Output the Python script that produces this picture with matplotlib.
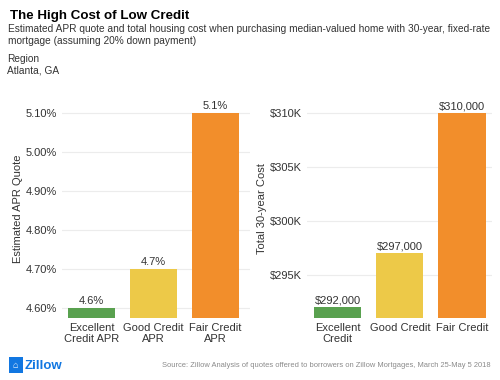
import matplotlib.pyplot as plt
from matplotlib.patches import Rectangle

plt.rcParams['font.family'] = ['Liberation Sans', 'DejaVu Sans']

# data
apr_labels = ['Excellent\nCredit APR', 'Good Credit\nAPR', 'Fair Credit\nAPR']
apr_values = [4.6, 4.7, 5.1]
apr_ticks = [4.6, 4.7, 4.8, 4.9, 5.0, 5.1]

cost_labels = ['Excellent\nCredit', 'Good Credit', 'Fair Credit']
cost_values = [292000, 297000, 310000]
cost_ticks = [295000, 300000, 305000, 310000]

colors = ['#59a14f', '#edc948', '#f28e2b']
text_col = '#333333'
grid_col = '#ececec'

fig = plt.figure(figsize=(5, 3.8), dpi=100)

fig.text(0.02, 0.958, 'The High Cost of Low Credit', fontsize=9.6,
         fontweight='bold', color='black', va='center')
fig.text(0.016, 0.923, 'Estimated APR quote and total housing cost when purchasing '
         'median-valued home with 30-year, fixed-rate', fontsize=7.3,
         color=text_col, va='center')
fig.text(0.016, 0.892, 'mortgage (assuming 20% down payment)', fontsize=7.3,
         color=text_col, va='center')
fig.text(0.014, 0.846, 'Region', fontsize=7.3, color=text_col, va='center')
fig.text(0.014, 0.814, 'Atlanta, GA', fontsize=7.3, color=text_col, va='center')


def style(ax):
    for s in ax.spines.values():
        s.set_visible(False)
    ax.tick_params(length=0, colors=text_col, labelsize=8)
    ax.yaxis.grid(True, color=grid_col, lw=0.8)
    ax.set_axisbelow(True)


# left panel: APR
ax1 = fig.add_axes([0.124, 0.163, 0.376, 0.574])
x = range(len(apr_values))
ax1.bar(x, [v - 4.575 for v in apr_values], bottom=4.575, width=0.76,
        color=colors)
for i, v in enumerate(apr_values):
    ax1.text(i, v + 0.005, f'{v:.1f}%', ha='center', va='bottom',
             fontsize=8, color=text_col)
ax1.set_ylim(4.575, 5.134)
ax1.set_xlim(-0.476, 2.556)
ax1.set_yticks(apr_ticks)
ax1.set_yticklabels([f'{t:.2f}%' for t in apr_ticks])
ax1.set_xticks(list(x))
ax1.set_xticklabels(apr_labels, linespacing=1.1)
ax1.set_ylabel('Estimated APR Quote', fontsize=8, color=text_col, labelpad=2)
style(ax1)

# right panel: total cost
ax2 = fig.add_axes([0.614, 0.163, 0.37, 0.574])
x = range(len(cost_values))
ax2.bar(x, [v - 291000 for v in cost_values], bottom=291000, width=0.76,
        color=colors)
for i, v in enumerate(cost_values):
    ax2.text(i, v + 150, f'${v:,}', ha='center', va='bottom',
             fontsize=8, color=text_col)
ax2.set_ylim(291000, 311190)
ax2.set_xlim(-0.49, 2.48)
ax2.set_yticks(cost_ticks)
ax2.set_yticklabels([f'${t // 1000}K' for t in cost_ticks])
ax2.set_xticks(list(x))
ax2.set_xticklabels(cost_labels, linespacing=1.1)
ax2.set_ylabel('Total 30-year Cost', fontsize=8, color=text_col, labelpad=2)
style(ax2)

# footer
fig.patches.append(Rectangle((0.017, 0.018), 0.028, 0.042, transform=fig.transFigure,
                             facecolor='#1277e1', edgecolor='none'))
fig.text(0.031, 0.039, '\u2302', fontsize=6.5, color='white', ha='center',
         va='center', fontweight='bold')
fig.text(0.05, 0.038, 'Zillow', fontsize=9.5, fontweight='bold',
         color='#1277e1', va='center')
fig.text(0.982, 0.038, 'Source: Zillow Analysis of quotes offered to borrowers on '
         'Zillow Mortgages, March 25-May 5 2018', fontsize=5.45,
         color='#8a8a8a', ha='right', va='center')

fig.savefig('out.png', dpi=100)
